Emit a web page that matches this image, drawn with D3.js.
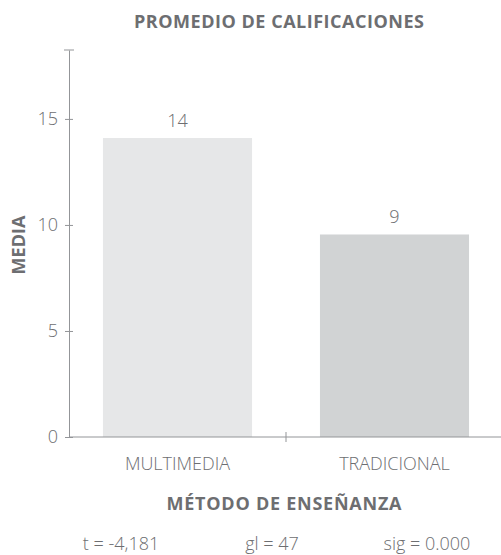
<!DOCTYPE html>
<html>
<head>
<meta charset="utf-8">
<script src="https://cdn.jsdelivr.net/npm/d3@7"></script>
<style>
  body { margin: 0; background: #fff; }
  svg { font-family: "Open Sans", sans-serif; }
</style>
</head>
<body>
<svg id="barchart"></svg>
<script>
var categories = ["MULTIMEDIA", "TRADICIONAL"]
var means = [14.1, 9.55]
var barLabels = ["14", "9"]
var yTicks = [0, 5, 10, 15]
var stats = ["t = -4,181", "gl = 47", "sig = 0.000"]
var colors = ["#e6e7e8", "#d1d3d4"]

var dimensions = {
    width: 501,
    height: 555,
    margin: {
        top: 50,
        bottom: 118,
        right: -2,
        left: 69
    }
}

var textColor = "#6d6e71"
var axisColor = "#939598"

var svg = d3.select("#barchart")
    .attr("width", dimensions.width)
    .attr("height", dimensions.height)

var xScale = d3.scaleBand()
    .domain(categories)
    .range([dimensions.margin.left, dimensions.width - dimensions.margin.right])
    .paddingInner(0.313)
    .paddingOuter(0.1565)

var yScale = d3.scaleLinear()
    .domain([0, 18.25])
    .range([dimensions.height - dimensions.margin.bottom, dimensions.margin.top])

// bars
svg.append("g")
    .selectAll("rect")
    .data(means)
    .enter()
    .append("rect")
    .attr("x", (d, i) => xScale(categories[i]))
    .attr("y", d => yScale(d))
    .attr("width", xScale.bandwidth())
    .attr("height", d => yScale(0) - yScale(d))
    .attr("fill", (d, i) => colors[i])

// value labels
svg.append("g")
    .selectAll("text")
    .data(means)
    .enter()
    .append("text")
    .attr("x", (d, i) => xScale(categories[i]) + xScale.bandwidth() / 2)
    .attr("y", d => yScale(d) - 11)
    .attr("text-anchor", "middle")
    .attr("fill", textColor)
    .style("font-size", "18px")
    .style("font-weight", 300)
    .text((d, i) => barLabels[i])

// y axis
var yAxisGen = d3.axisLeft(yScale)
    .tickValues(yTicks)
    .tickSizeInner(-5)
    .tickSizeOuter(0)
    .tickPadding(11)
var yAxis = svg.append("g")
    .attr("transform", `translate(${dimensions.margin.left},0)`)
    .call(yAxisGen)
yAxis.select(".domain").attr("stroke", axisColor)
yAxis.selectAll(".tick line")
    .attr("x1", -4).attr("x2", 4)
    .attr("stroke", axisColor)
yAxis.selectAll(".tick text")
    .attr("fill", textColor)
    .style("font-size", "18px")
    .style("font-weight", 300)
    .style("font-family", "'Open Sans', sans-serif")
// cap at the top of the y axis
yAxis.append("line")
    .attr("x1", -5).attr("x2", 5)
    .attr("y1", yScale.range()[1]).attr("y2", yScale.range()[1])
    .attr("stroke", axisColor)

// x axis
var xAxis = svg.append("g")
    .attr("transform", `translate(0,${yScale(0)})`)
xAxis.append("line")
    .attr("x1", dimensions.margin.left)
    .attr("x2", dimensions.width)
    .attr("stroke", axisColor)
xAxis.selectAll(".sep")
    .data(categories.slice(1))
    .enter()
    .append("line")
    .attr("class", "sep")
    .attr("x1", d => xScale(d) - xScale.step() * xScale.paddingInner() / 2)
    .attr("x2", d => xScale(d) - xScale.step() * xScale.paddingInner() / 2)
    .attr("y1", -5).attr("y2", 5)
    .attr("stroke", axisColor)
xAxis.selectAll("text")
    .data(categories)
    .enter()
    .append("text")
    .attr("x", d => xScale(d) + xScale.bandwidth() / 2)
    .attr("y", 33)
    .attr("text-anchor", "middle")
    .attr("fill", textColor)
    .style("font-size", "18px")
    .style("font-weight", 300)
    .text(d => d)

// title
svg.append("text")
    .attr("x", 279)
    .attr("y", 28)
    .attr("text-anchor", "middle")
    .attr("fill", textColor)
    .style("font-size", "18px")
    .style("font-weight", 700)
    .attr("textLength", 290)
    .text("PROMEDIO DE CALIFICACIONES")

// x label
svg.append("text")
    .attr("x", 284)
    .attr("y", 510)
    .attr("text-anchor", "middle")
    .attr("fill", textColor)
    .style("font-size", "18px")
    .style("font-weight", 700)
    .attr("textLength", 235)
    .text("MÉTODO DE ENSEÑANZA")

// y label
svg.append("text")
    .attr("transform", "translate(25,245) rotate(-90)")
    .attr("text-anchor", "middle")
    .attr("fill", textColor)
    .style("font-size", "18px")
    .style("font-weight", 700)
    .text("MEDIA")

// stats line
var statX = [121, 272, 427]
svg.append("g")
    .selectAll("text")
    .data(stats)
    .enter()
    .append("text")
    .attr("x", (d, i) => statX[i])
    .attr("y", 550)
    .attr("text-anchor", "middle")
    .attr("fill", textColor)
    .style("font-size", "18px")
    .style("font-weight", 300)
    .text(d => d)
</script>
</body>
</html>
